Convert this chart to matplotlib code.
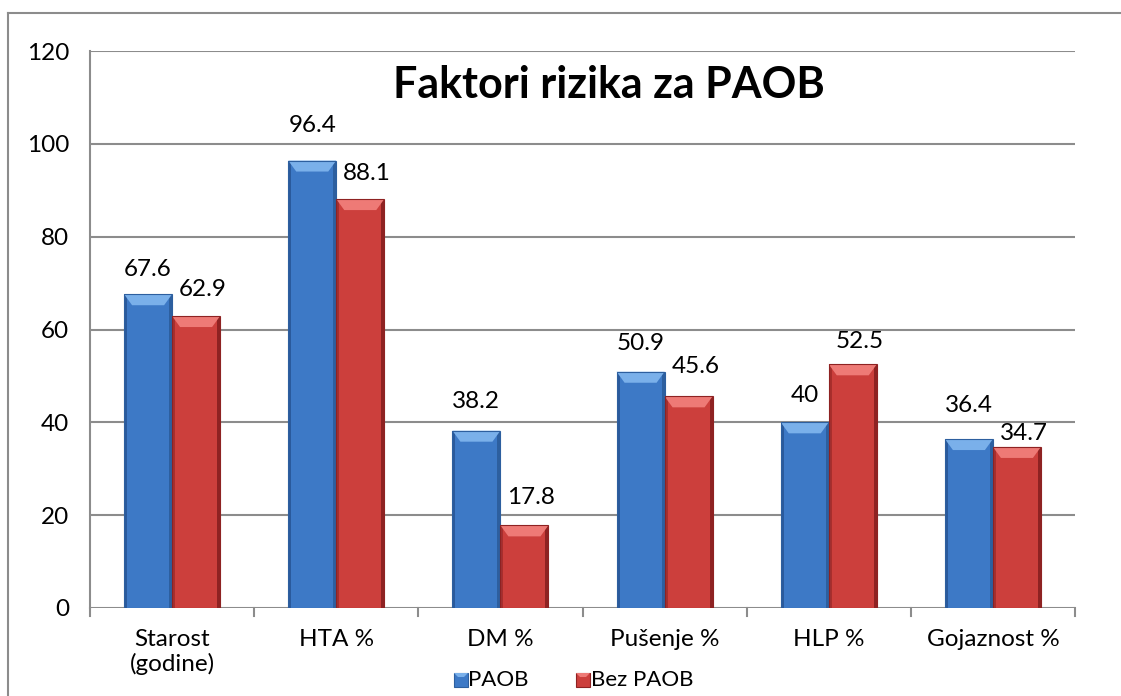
import matplotlib
matplotlib.use("Agg")
import matplotlib.pyplot as plt
from matplotlib.patches import Rectangle, Polygon
from matplotlib.lines import Line2D
import numpy as np

plt.rcParams['font.family'] = ['Lato', 'DejaVu Sans']

categories = ["Starost\n(godine)", "HTA %", "DM %", "Pušenje %", "HLP %", "Gojaznost %"]
series_names = ["PAOB", "Bez PAOB"]
paob = [67.6, 96.4, 38.2, 50.9, 40, 36.4]
bez_paob = [62.9, 88.1, 17.8, 45.6, 52.5, 34.7]
label_paob = ["67.6", "96.4", "38.2", "50.9", "40", "36.4"]
label_bez = ["62.9", "88.1", "17.8", "45.6", "52.5", "34.7"]
yticks = [0, 20, 40, 60, 80, 100, 120]
title = "Faktori rizika za PAOB"

# label offsets (pixels) above bar tops - style only
dy_paob = [25, 35, 29, 28, 27, 34]
dy_bez = [27, 26, 28, 30, 23, 13]
dx_bez = 7

W, H = 1121, 696
fig = plt.figure(figsize=(W / 100, H / 100), dpi=100)
L, R, T, B = 90, 1075, 51, 608
ax = fig.add_axes([L / W, 1 - B / H, (R - L) / W, (B - T) / H])
ax.set_xlim(0, 6)
ax.set_ylim(0, 120)

px_x = 6 / (R - L)
px_y = 120 / (B - T)

grid_c = "#8c8c8c"
for v in yticks:
    ax.axhline(v, color=grid_c, lw=1.5, zorder=1)

for s in ax.spines.values():
    s.set_visible(False)
ax.plot([0, 0], [0, 120], color=grid_c, lw=1.5, zorder=1, clip_on=False)

ax.set_yticks(yticks)
ax.set_yticklabels([str(v) for v in yticks], fontsize=17.5)
ax.tick_params(axis='y', length=0, pad=15)
ax.set_xticks([])
# category boundary ticks
for i in range(7):
    ax.plot([i, i], [0, -8 * px_y], color=grid_c, lw=1.5, clip_on=False, zorder=1)

bw = 48 * px_x
centers = np.arange(6) + 0.5

blue = dict(face="#3d79c6", top="#7ab0ea", left="#2a5a9c", right="#2d5f9f", bottom="#2f62a4")
red = dict(face="#cc3f3c", top="#ee7a76", left="#a82e2c", right="#8e2222", bottom="#9c2a28")


def bevel_bar(x0, h, col):
    x1 = x0 + bw
    bx = 8 * px_x
    by = 11 * px_y
    ax.add_patch(Rectangle((x0, 0), bw, h, facecolor=col["face"], edgecolor="none", zorder=3))
    # side shading
    ax.add_patch(Polygon([(x0, 0), (x0 + 3 * px_x, 0), (x0 + 3 * px_x, h), (x0, h)],
                         facecolor=col["left"], edgecolor="none", zorder=3))
    ax.add_patch(Polygon([(x1 - 3 * px_x, 0), (x1, 0), (x1, h), (x1 - 3 * px_x, h)],
                         facecolor=col["right"], edgecolor="none", zorder=3))
    # top bevel
    ax.add_patch(Polygon([(x0, h), (x1, h), (x1 - bx, h - by), (x0 + bx, h - by)],
                         facecolor=col["top"], edgecolor="none", zorder=4))
    ax.add_patch(Rectangle((x0, 0), bw, h, facecolor="none", edgecolor=col["right"], lw=0.8, zorder=5))


for i in range(6):
    bevel_bar(centers[i] - bw, paob[i], blue)
    bevel_bar(centers[i], bez_paob[i], red)
    ax.text(centers[i] - bw / 2, paob[i] + dy_paob[i] * px_y, label_paob[i],
            ha="center", va="center", fontsize=17.5, color="black", zorder=6)
    ax.text(centers[i] + bw / 2 + dx_bez * px_x, bez_paob[i] + dy_bez[i] * px_y, label_bez[i],
            ha="center", va="center", fontsize=17.5, color="black", zorder=6)

for i, c in enumerate(categories):
    ax.text(centers[i], -21 * px_y, c, ha="center", va="top", fontsize=17.5,
            linespacing=1.15, clip_on=False)

fig.text(609 / W, 1 - 85 / H, title, ha="center", va="center", fontsize=31, fontweight="bold")

# legend
def legend_square(xp, yp, col):
    s = 14
    x0 = xp / W; y0 = 1 - (yp + s / 2) / H
    fig.patches.append(Rectangle((x0, y0), s / W, s / H, transform=fig.transFigure,
                                 facecolor=col["face"], edgecolor=col["right"], lw=0.8))
    fig.patches.append(Polygon([(x0, y0 + s / H), (x0 + s / W, y0 + s / H),
                                (x0 + (s - 4) / W, y0 + (s - 4) / H), (x0 + 4 / W, y0 + (s - 4) / H)],
                               closed=True, transform=fig.transFigure, facecolor=col["top"], edgecolor="none"))

legend_square(454, 680, blue)
fig.text(468 / W, 1 - 680 / H, series_names[0], ha="left", va="center", fontsize=16)
legend_square(576, 680, red)
fig.text(591 / W, 1 - 680 / H, series_names[1], ha="left", va="center", fontsize=16)

# outer chart border
fig.lines.append(Line2D([8 / W, 1.01], [1 - 13 / H, 1 - 13 / H], transform=fig.transFigure, color="#8c8c8c", lw=1.5))
fig.lines.append(Line2D([8 / W, 8 / W], [1 - 13 / H, -0.01], transform=fig.transFigure, color="#8c8c8c", lw=1.5))

fig.savefig("out.png", dpi=100)
